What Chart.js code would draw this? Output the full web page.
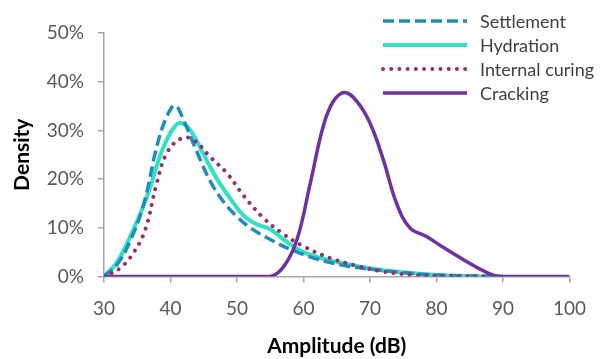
<!DOCTYPE html>
<html>
<head>
<meta charset="utf-8">
<script src="https://cdn.jsdelivr.net/npm/chart.js@4/dist/chart.umd.min.js"></script>
<style>
html,body{margin:0;padding:0;background:#fff;}
#wrap{width:601px;height:359px;position:relative;}
</style>
</head>
<body>
<div id="wrap"><canvas id="c" width="601" height="359"></canvas></div>
<script>
// ---- data ----
const seriesNames = ["Settlement", "Hydration", "Internal curing", "Cracking"];
const xTicks = [30, 40, 50, 60, 70, 80, 90, 100];
const yTicks = [0, 10, 20, 30, 40, 50];

const settlementX = [30, 32, 34, 36, 38, 39.5, 40.7, 42, 44, 46, 48, 50, 52, 55, 58, 62, 66, 70, 75, 80, 85, 90];
const settlementY = [0, 2.5, 7.5, 15, 27, 33, 35.1, 32, 25.5, 19.5, 15.3, 12.3, 10, 7.6, 5.6, 3.6, 2.3, 1.5, 0.8, 0.3, 0.1, 0];

const hydrationX = [30, 32, 34.4, 36.5, 38.5, 40, 41.4, 43, 45, 47, 49, 51, 53, 55, 57, 60, 64, 70, 76, 82, 90];
const hydrationY = [0, 3, 9.6, 16.5, 25, 29.5, 31.5, 30, 25, 20, 16, 12.5, 10.7, 9.7, 7.6, 5, 3.3, 1.7, 0.7, 0.2, 0];

const curingX = [30, 32.4, 34.4, 36.2, 37.9, 39.5, 41.7, 43.5, 46, 48.5, 51, 54, 57, 60, 64, 68, 72, 77, 82, 88];
const curingY = [0, 1.7, 4.8, 9.6, 19, 25.5, 28.4, 28, 24.5, 21.2, 16.6, 12, 8.7, 6.2, 3.8, 2.2, 1, 0.3, 0.1, 0];

const crackingX = [30, 40, 50, 55, 57, 59, 61, 63, 64.5, 66.2, 68, 70, 72, 74, 76, 78.5, 81, 84, 87, 89.5, 95, 100];
const crackingY = [0, 0, 0, 0, 2, 7.5, 19, 31, 36, 37.8, 36, 31.5, 24, 15, 10, 8.2, 6, 3.5, 1.2, 0, 0, 0];

function pts(xs, ys){ return xs.map((x,i)=>({x:x, y:ys[i]})); }

const FONT = "Lato, 'Open Sans', sans-serif";

const legendPlugin = {
  id: 'insideLegend',
  afterDraw(chart){
    const ctx = chart.ctx;
    const x0 = 383, x1 = 467, tx = 480;
    const rows = [21, 45, 69, 93];
    chart.data.datasets.forEach((ds, i) => {
      const y = rows[i];
      ctx.save();
      ctx.strokeStyle = ds.borderColor;
      ctx.lineWidth = ds.borderWidth;
      ctx.lineCap = ds.borderCapStyle || 'butt';
      ctx.setLineDash(ds.borderDash || []);
      ctx.beginPath();
      ctx.moveTo(x0, y);
      ctx.lineTo(x1, y);
      ctx.stroke();
      ctx.setLineDash([]);
      ctx.fillStyle = '#404040';
      ctx.font = '18px ' + FONT;
      ctx.textBaseline = 'middle';
      ctx.textAlign = 'left';
      ctx.fillText(ds.label, tx, y + 1);
      ctx.restore();
    });
  }
};

new Chart(document.getElementById('c'), {
  type: 'line',
  data: {
    datasets: [
      { label: seriesNames[0], data: pts(settlementX, settlementY), borderColor: '#1f8cc0', borderWidth: 3.5, borderDash: [11, 5], pointRadius: 0, tension: 0.4, fill: false, order: 3 },
      { label: seriesNames[1], data: pts(hydrationX, hydrationY), borderColor: '#2fe3c2', borderWidth: 4, pointRadius: 0, tension: 0.4, fill: false, order: 4 },
      { label: seriesNames[2], data: pts(curingX, curingY), borderColor: '#9c2a6c', borderWidth: 4, borderDash: [0.01, 8.2], borderCapStyle: 'round', pointRadius: 0, tension: 0.4, fill: false, order: 2 },
      { label: seriesNames[3], data: pts(crackingX, crackingY), borderColor: '#7030a0', borderWidth: 3.5, pointRadius: 0, tension: 0.4, fill: false, order: 1 }
    ]
  },
  options: {
    responsive: false,
    animation: false,
    layout: { padding: { top: 33, right: 31, bottom: 0, left: 0 } },
    plugins: { legend: { display: false }, tooltip: { enabled: false } },
    scales: {
      x: {
        type: 'linear', min: 30, max: 100,
        afterBuildTicks(s){ s.ticks = xTicks.map(v=>({value:v})); },
        afterFit(s){ s.height = 359 - 276.5; },
        grid: { display: true, drawOnChartArea: false, drawTicks: true, tickLength: 6, color: '#a6a6a6', lineWidth: 1.5 },
        border: { display: true, color: '#a6a6a6', width: 1.5 },
        ticks: { color: '#595959', font: { family: FONT, size: 19 }, padding: 15, maxRotation: 0 },
        title: { display: true, text: 'Amplitude (dB)', color: '#000', font: { family: FONT, size: 21, weight: 'bold' }, padding: { top: 8, bottom: 0 } }
      },
      y: {
        type: 'linear', min: 0, max: 50,
        afterBuildTicks(s){ s.ticks = yTicks.map(v=>({value:v})); },
        afterFit(s){ s.width = 104; },
        grid: { display: true, drawOnChartArea: false, drawTicks: true, tickLength: 6, color: '#a6a6a6', lineWidth: 1.5 },
        border: { display: true, color: '#a6a6a6', width: 1.5 },
        ticks: { color: '#595959', font: { family: FONT, size: 19 }, padding: 14, callback: v => v + '%' },
        title: { display: true, text: 'Density', color: '#000', font: { family: FONT, size: 21, weight: 'bold' }, padding: { top: 10, bottom: 0 } }
      }
    }
  },
  plugins: [legendPlugin]
});
</script>
</body>
</html>
